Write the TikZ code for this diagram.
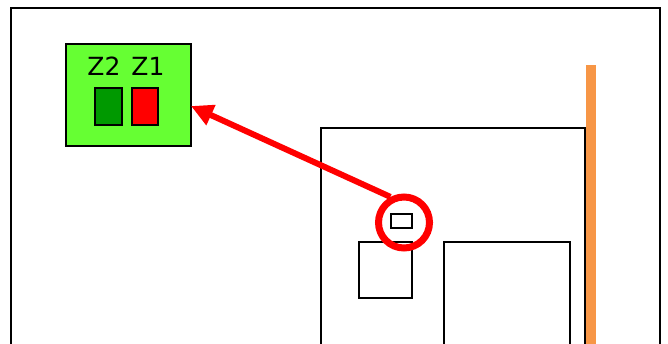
\documentclass[tikz,border=0pt]{standalone}
\usepackage{fontspec}
\setmainfont{DejaVu Sans}
\usetikzlibrary{arrows.meta}
\definecolor{boxgreen}{HTML}{66FF33}
\definecolor{darkg}{HTML}{009900}
\definecolor{orangebar}{HTML}{F79646}
\begin{document}
\begin{tikzpicture}[x=1pt,y=-1pt,
  recbox/.style={draw=black,line width=1.6pt,inner sep=0pt,anchor=north west},
  zlabel/.style={font=\fontsize{25}{27}\selectfont,anchor=base,inner sep=0pt},
]
\useasboundingbox (0,0) rectangle (668,343);
\fill[white] (0,0) rectangle (668,343);
% outer frame
\draw[line width=1.8pt] (11,350) -- (11,8) -- (660,8) -- (660,350);
% orange bar
\fill[orangebar] (586,65) rectangle (596,350);
% big rectangle
\node[recbox,minimum width=264pt,minimum height=230pt] (big) at (320,127) {};
% inner right rect
\node[recbox,minimum width=126pt,minimum height=120pt] (inner) at (443,241) {};
% small square
\node[recbox,minimum width=53pt,minimum height=56pt] (sq) at (358,241) {};
% tiny rect
\node[recbox,minimum width=21pt,minimum height=14pt,line width=1.5pt] (tiny) at (390,213) {};
% red circle
\node[circle,draw=red,line width=7pt,minimum size=51pt,inner sep=0pt] (circ) at (404,222.5) {};
% green box
\node[recbox,fill=boxgreen,minimum width=125pt,minimum height=102pt] (gbox) at (65,43) {};
\node[zlabel] (lz2) at (104,75) {Z2};
\node[zlabel] (lz1) at (148,75) {Z1};
\node[recbox,fill=darkg,minimum width=27pt,minimum height=37pt] (z2) at (94,87) {};
\node[recbox,fill=red,minimum width=26pt,minimum height=37pt] (z1) at (131,87) {};
% arrow
\coordinate (tip) at (191,106);
\draw[red,line width=6pt,-{Triangle[length=22pt,width=21pt]}] (circ.118) -- (tip);
\end{tikzpicture}
\end{document}
